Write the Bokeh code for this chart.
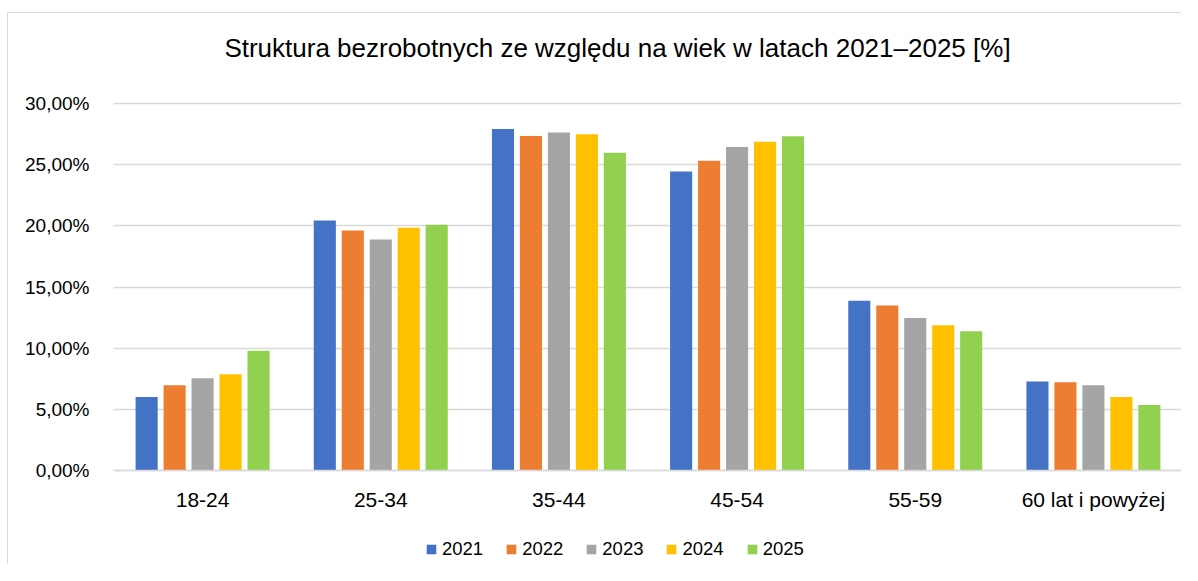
from bokeh.plotting import figure
from bokeh.models import FactorRange, Range1d, FixedTicker, Legend, LegendItem, Label, ColumnDataSource
from bokeh.transform import dodge
from bokeh.embed import file_html
from bokeh.resources import INLINE

categories = ["18-24", "25-34", "35-44", "45-54", "55-59", "60 lat i powyżej"]
years = ["2021", "2022", "2023", "2024", "2025"]
y2021 = [6.00, 20.44, 27.92, 24.45, 13.87, 7.27]
y2022 = [6.97, 19.62, 27.35, 25.33, 13.49, 7.22]
y2023 = [7.54, 18.89, 27.62, 26.45, 12.46, 6.97]
y2024 = [7.87, 19.84, 27.48, 26.88, 11.88, 6.01]
y2025 = [9.78, 20.09, 25.98, 27.32, 11.39, 5.36]
colors = ["#4472C4", "#ED7D31", "#A5A5A5", "#FFC000", "#92D050"]
y_ticks = [0, 5, 10, 15, 20, 25, 30]
y_tick_labels = ["0,00%", "5,00%", "10,00%", "15,00%", "20,00%", "25,00%", "30,00%"]
title_text = "Struktura bezrobotnych ze względu na wiek w latach 2021–2025 [%]"

FONT = "Liberation Sans"

# layout (pixels): canvas starts at page (8, 13) because of margin + border
W, H = 1174, 552
LEFT, BOTTOM = 105, 5
FRAME_TOP_TO_30 = 90          # pixels from canvas top to the 30% gridline
px_per_unit = 367.0 / 30
frame_h = H - BOTTOM
y_end = 30 + FRAME_TOP_TO_30 / px_per_unit
y_start = y_end - frame_h / px_per_unit
cat_px = (W - LEFT) / len(categories)

src = ColumnDataSource(dict(cat=categories, y2021=y2021, y2022=y2022, y2023=y2023,
                            y2024=y2024, y2025=y2025))

p = figure(width=W, height=H, x_range=FactorRange(*categories), y_range=Range1d(y_start, y_end),
           output_backend="svg", toolbar_location=None,
           min_border_left=LEFT, min_border_right=0, min_border_top=0, min_border_bottom=BOTTOM)
p.styles = {"margin-left": "7px", "margin-top": "12px",
            "border-left": "1px solid #d9d9d9", "border-top": "1px solid #d9d9d9"}
p.outline_line_color = None
p.background_fill_color = "white"
p.border_fill_color = "white"

step = 0.157
width = 0.124
renderers = []
for i, (yr, col) in enumerate(zip(years, colors)):
    r = p.vbar(x=dodge("cat", (i - 2) * step, range=p.x_range), top="y" + yr, bottom=0,
               width=width, source=src, fill_color=col, line_color=None)
    renderers.append(r)

p.xgrid.grid_line_color = None
p.ygrid.grid_line_color = "#d9d9d9"
p.ygrid.grid_line_width = 1.3
p.ygrid.ticker = FixedTicker(ticks=y_ticks)

p.yaxis.ticker = FixedTicker(ticks=y_ticks)
p.yaxis.major_label_overrides = {t: l for t, l in zip(y_ticks, y_tick_labels)}
p.yaxis.axis_line_color = None
p.yaxis.major_tick_line_color = None
p.yaxis.minor_tick_line_color = None
p.yaxis.major_label_standoff = 18
p.yaxis.major_label_text_font = FONT
p.yaxis.major_label_text_font_size = "19px"
p.yaxis.major_label_text_color = "#000000"

p.xaxis.fixed_location = 0
p.xaxis.axis_line_color = "#d9d9d9"
p.xaxis.axis_line_width = 1.3
p.xaxis.major_tick_line_color = None
p.xaxis.minor_tick_line_color = None
p.xaxis.major_label_standoff = 11
p.xaxis.major_label_text_font = FONT
p.xaxis.major_label_text_font_size = "21px"
p.xaxis.major_label_text_color = "#000000"

# title: centred at page x=617, y=47
title = Label(x=(617 - 8 - LEFT) / cat_px, y=30 + (90 + 13 - 47) / px_per_unit,
              text=title_text, text_align="center", text_baseline="middle",
              text_font=FONT, text_font_size="26px", text_color="#000000")
p.add_layout(title)

legend = Legend(items=[LegendItem(label=yr, renderers=[r]) for yr, r in zip(years, renderers)],
                orientation="horizontal", location=(312, 0), border_line_color=None,
                background_fill_alpha=0, padding=0, margin=0, spacing=22,
                glyph_width=12, glyph_height=12, label_standoff=5, label_height=20,
                label_text_font=FONT, label_text_font_size="18.5px", label_text_color="#000000")
p.add_layout(legend, "center")

open("out.html", "w").write(file_html(p, INLINE))
